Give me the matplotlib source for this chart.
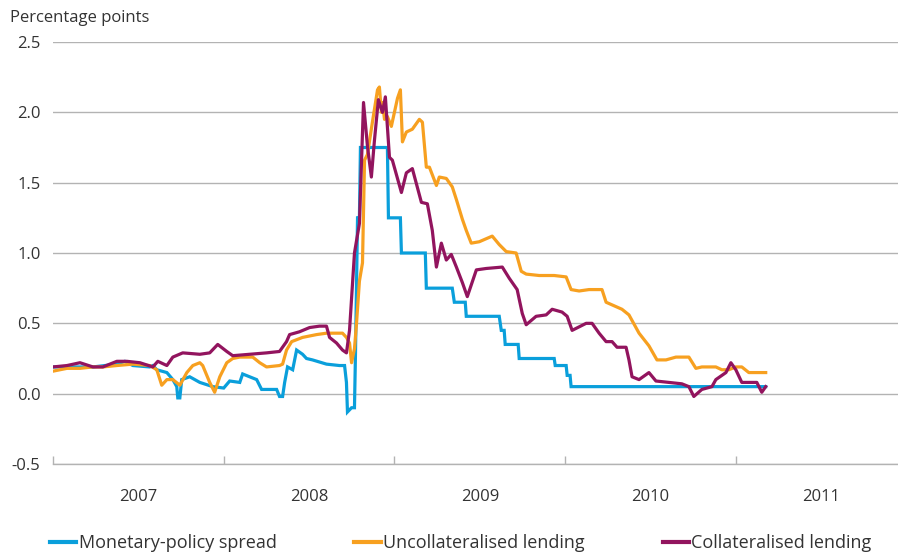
import numpy as np
import matplotlib
matplotlib.use('Agg')
import matplotlib.pyplot as plt
from matplotlib.ticker import FixedLocator, FuncFormatter

plt.rcParams['font.family'] = ['Open Sans', 'DejaVu Sans']

# Dados (ano decimal, pontos percentuais)
politica_t = [2007.000, 2007.234, 2007.374, 2007.421, 2007.468, 2007.567, 2007.585, 2007.608,
              2007.667, 2007.702, 2007.725, 2007.731, 2007.743, 2007.754, 2007.801, 2007.860,
              2007.936, 2008.000, 2008.035, 2008.094, 2008.111, 2008.193, 2008.222, 2008.310,
              2008.327, 2008.345, 2008.357, 2008.374, 2008.404, 2008.427, 2008.462, 2008.485,
              2008.520, 2008.602, 2008.678, 2008.708, 2008.719, 2008.725, 2008.749, 2008.766,
              2008.772, 2008.784, 2008.795, 2008.801, 2008.959, 2008.965, 2009.035, 2009.041,
              2009.181, 2009.187, 2009.339, 2009.351, 2009.415, 2009.421, 2009.614, 2009.626,
              2009.643, 2009.649, 2009.725, 2009.731, 2009.936, 2009.942, 2010.006, 2010.012,
              2010.029, 2010.035, 2011.175]
politica_v = [0.19, 0.19, 0.21, 0.23, 0.20, 0.19, 0.20, 0.17,
              0.15, 0.10, 0.05, -0.03, -0.03, 0.10, 0.12, 0.08,
              0.05, 0.04, 0.09, 0.08, 0.14, 0.10, 0.03, 0.03,
              -0.02, -0.02, 0.08, 0.19, 0.17, 0.31, 0.28, 0.25,
              0.24, 0.21, 0.20, 0.20, 0.08, -0.13, -0.10, -0.10,
              0.29, 1.25, 1.25, 1.75, 1.75, 1.25, 1.25, 1.00,
              1.00, 0.75, 0.75, 0.65, 0.65, 0.55, 0.55, 0.45,
              0.45, 0.35, 0.35, 0.25, 0.25, 0.20, 0.20, 0.13,
              0.13, 0.05, 0.05]

sem_garantia_t = [2007.000, 2007.082, 2007.158, 2007.234, 2007.292, 2007.374, 2007.468, 2007.567,
                  2007.608, 2007.637, 2007.667, 2007.702, 2007.743, 2007.784, 2007.819, 2007.860,
                  2007.877, 2007.918, 2007.947, 2007.977, 2008.018, 2008.053, 2008.094, 2008.170,
                  2008.211, 2008.251, 2008.327, 2008.345, 2008.368, 2008.398, 2008.462, 2008.544,
                  2008.602, 2008.696, 2008.719, 2008.737, 2008.749, 2008.766, 2008.778, 2008.795,
                  2008.813, 2008.825, 2008.842, 2008.871, 2008.901, 2008.912, 2008.924, 2008.930,
                  2008.942, 2008.959, 2008.982, 2009.018, 2009.035, 2009.047, 2009.070, 2009.105,
                  2009.146, 2009.164, 2009.187, 2009.205, 2009.246, 2009.263, 2009.304, 2009.339,
                  2009.363, 2009.398, 2009.421, 2009.450, 2009.497, 2009.573, 2009.614, 2009.655,
                  2009.713, 2009.743, 2009.772, 2009.848, 2009.936, 2010.006, 2010.035, 2010.082,
                  2010.140, 2010.216, 2010.240, 2010.333, 2010.374, 2010.433, 2010.491, 2010.538,
                  2010.591, 2010.649, 2010.725, 2010.766, 2010.801, 2010.883, 2010.918, 2010.959,
                  2011.000, 2011.035, 2011.076, 2011.175]
sem_garantia_v = [0.16, 0.18, 0.18, 0.19, 0.19, 0.20, 0.21, 0.20,
                  0.17, 0.06, 0.10, 0.10, 0.06, 0.15, 0.20, 0.22,
                  0.20, 0.08, 0.01, 0.12, 0.22, 0.25, 0.26, 0.26,
                  0.22, 0.19, 0.20, 0.21, 0.31, 0.37, 0.40, 0.42,
                  0.43, 0.43, 0.40, 0.36, 0.22, 0.32, 0.50, 0.80,
                  0.93, 1.66, 1.70, 1.93, 2.16, 2.18, 2.00, 2.07,
                  1.95, 1.97, 1.90, 2.10, 2.16, 1.79, 1.86, 1.88,
                  1.95, 1.93, 1.61, 1.61, 1.48, 1.54, 1.53, 1.47,
                  1.38, 1.24, 1.16, 1.07, 1.08, 1.12, 1.06, 1.01,
                  1.00, 0.87, 0.85, 0.84, 0.84, 0.83, 0.74, 0.73,
                  0.74, 0.74, 0.65, 0.60, 0.56, 0.43, 0.34, 0.24,
                  0.24, 0.26, 0.26, 0.18, 0.19, 0.19, 0.17, 0.17,
                  0.19, 0.19, 0.15, 0.15]

com_garantia_t = [2007.000, 2007.082, 2007.158, 2007.234, 2007.292, 2007.374, 2007.433, 2007.509,
                  2007.585, 2007.614, 2007.667, 2007.702, 2007.760, 2007.860, 2007.918, 2007.965,
                  2008.018, 2008.053, 2008.152, 2008.251, 2008.327, 2008.368, 2008.386, 2008.444,
                  2008.503, 2008.561, 2008.602, 2008.620, 2008.661, 2008.696, 2008.719, 2008.737,
                  2008.766, 2008.795, 2008.819, 2008.842, 2008.865, 2008.883, 2008.906, 2008.930,
                  2008.947, 2008.971, 2008.988, 2009.041, 2009.070, 2009.105, 2009.158, 2009.193,
                  2009.222, 2009.246, 2009.275, 2009.304, 2009.333, 2009.363, 2009.398, 2009.427,
                  2009.480, 2009.538, 2009.632, 2009.673, 2009.719, 2009.749, 2009.772, 2009.830,
                  2009.889, 2009.924, 2009.982, 2010.012, 2010.041, 2010.123, 2010.158, 2010.199,
                  2010.240, 2010.275, 2010.304, 2010.357, 2010.374, 2010.392, 2010.433, 2010.491,
                  2010.532, 2010.608, 2010.684, 2010.725, 2010.754, 2010.801, 2010.860, 2010.883,
                  2010.942, 2010.971, 2011.000, 2011.035, 2011.094, 2011.123, 2011.152, 2011.175]
com_garantia_v = [0.19, 0.20, 0.22, 0.19, 0.19, 0.23, 0.23, 0.22,
                  0.19, 0.23, 0.20, 0.26, 0.29, 0.28, 0.29, 0.35,
                  0.30, 0.27, 0.28, 0.29, 0.30, 0.37, 0.42, 0.44,
                  0.47, 0.48, 0.48, 0.40, 0.36, 0.31, 0.29, 0.45,
                  1.00, 1.21, 2.07, 1.76, 1.54, 1.80, 2.09, 2.00,
                  2.11, 1.68, 1.66, 1.43, 1.57, 1.60, 1.36, 1.35,
                  1.16, 0.90, 1.07, 0.95, 0.99, 0.90, 0.79, 0.69,
                  0.88, 0.89, 0.90, 0.82, 0.74, 0.57, 0.49, 0.55,
                  0.56, 0.60, 0.58, 0.55, 0.45, 0.50, 0.50, 0.43,
                  0.37, 0.37, 0.33, 0.33, 0.24, 0.12, 0.10, 0.15,
                  0.09, 0.08, 0.07, 0.05, -0.02, 0.03, 0.05, 0.10,
                  0.15, 0.22, 0.17, 0.08, 0.08, 0.08, 0.01, 0.05]

anos = [2007, 2008, 2009, 2010, 2011]
rotulos_y = [-0.5, 0.0, 0.5, 1.0, 1.5, 2.0, 2.5]

cor_texto = '#333333'
cor_grade = '#b3b3b3'

fig = plt.figure(figsize=(8.98, 5.53), dpi=100)
ax = fig.add_axes([53 / 898, 1 - 464 / 553, 1 - 53 / 898, (464 - 42) / 553])

ax.plot(politica_t, politica_v, color='#0a9fdb', lw=2.3, label='Monetary-policy spread',
        solid_joinstyle='miter')
ax.plot(sem_garantia_t, sem_garantia_v, color='#f7a020', lw=2.3, label='Uncollateralised lending')
ax.plot(com_garantia_t, com_garantia_v, color='#92145e', lw=2.3, label='Collateralised lending')

ax.set_ylim(-0.5, 2.5)
ax.set_xlim(2007, 2011.95)

# Grade horizontal
ax.set_yticks(rotulos_y)
ax.yaxis.set_major_formatter(FuncFormatter(lambda v, p: f'{v:.1f}'))
ax.grid(axis='y', color=cor_grade, lw=1.0)
ax.set_axisbelow(True)

# Eixo x: marcas no inicio de cada ano, rotulos no meio
ax.xaxis.set_major_locator(FixedLocator([a for a in anos]))
ax.xaxis.set_minor_locator(FixedLocator([a + 0.5 for a in anos]))
ax.xaxis.set_major_formatter(FuncFormatter(lambda v, p: ''))
ax.xaxis.set_minor_formatter(FuncFormatter(lambda v, p: str(int(v))))
ax.tick_params(axis='x', which='major', direction='in', length=6, color=cor_grade, width=1)
ax.tick_params(axis='x', which='minor', length=0, pad=18, labelsize=12, labelcolor=cor_texto)
ax.tick_params(axis='y', length=0, pad=9, labelsize=12, labelcolor=cor_texto)

for lado in ['left', 'right', 'top']:
    ax.spines[lado].set_visible(False)
ax.spines['bottom'].set_color(cor_grade)
ax.spines['bottom'].set_linewidth(1.0)

fig.text(10 / 898, 1 - 18 / 553, 'Percentage points', fontsize=12, color=cor_texto,
         ha='left', va='center')

leg = fig.legend(loc='center left', bbox_to_anchor=(50 / 898, 1 - 543 / 553), ncol=3,
                 frameon=False, fontsize=13, handlelength=1.45, handletextpad=0.15,
                 columnspacing=4.3, borderpad=0, borderaxespad=0)
for t in leg.get_texts():
    t.set_color(cor_texto)
for l in leg.get_lines():
    l.set_linewidth(3)

fig.savefig('out.png', dpi=100)
